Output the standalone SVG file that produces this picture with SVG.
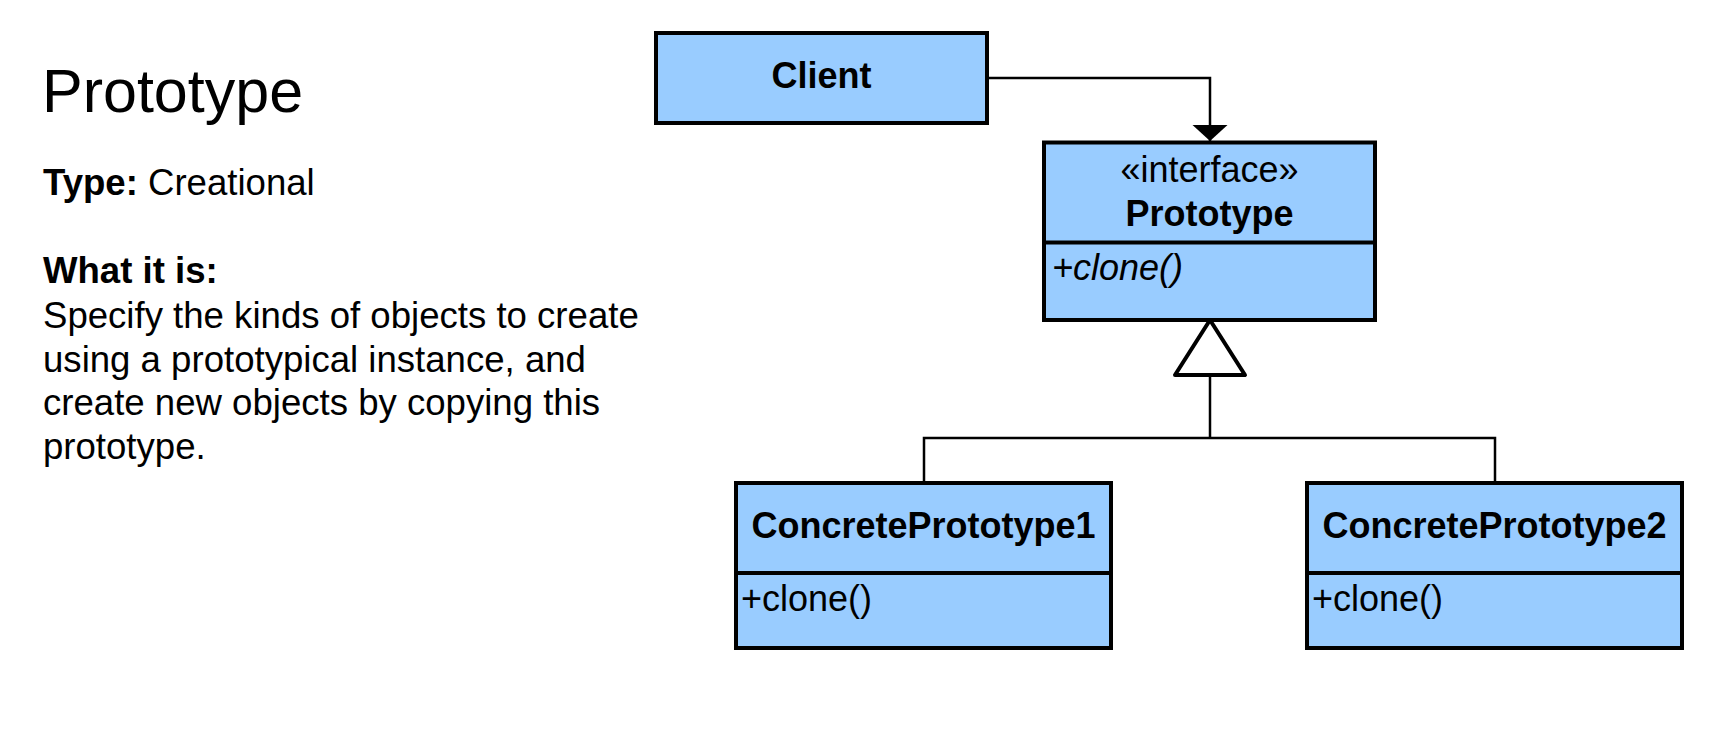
<svg xmlns="http://www.w3.org/2000/svg" width="1731" height="754" viewBox="0 0 1731 754">
<style>
.t{font-family:"Liberation Sans",Arial,sans-serif;fill:#000}
.box{fill:#99CCFF;stroke:#000;stroke-width:4}
.div{stroke:#000;stroke-width:4}
.conn{fill:none;stroke:#000;stroke-width:2.5}
.name{font-size:36px;font-weight:bold;text-anchor:middle}
.op{font-size:36px}
.body{font-size:36.6px}
</style>
<defs>
<marker id="arrow" markerUnits="userSpaceOnUse" viewBox="0 0 16 35" refX="16" refY="17.5" markerWidth="16" markerHeight="35" orient="auto" overflow="visible">
<path d="M0,0 L16,17.5 L0,35 Z" fill="#000"/>
</marker>
<marker id="gen" markerUnits="userSpaceOnUse" viewBox="0 0 55 70" refX="55" refY="35" markerWidth="55" markerHeight="70" orient="auto" overflow="visible">
<path d="M0,0 L55,35 L0,70 Z" fill="#fff" stroke="#000" stroke-width="4" stroke-linejoin="round"/>
</marker>
</defs>
<rect width="1731" height="754" fill="#fff"/>
<g id="description">
<text class="t" x="42" y="111.5" font-size="61">Prototype</text>
<text class="t body" x="43" y="195"><tspan font-weight="bold">Type:</tspan> Creational</text>
<text class="t body" x="43" y="283" font-weight="bold">What it is:</text>
<text class="t body" x="43" y="328">Specify the kinds of objects to create</text>
<text class="t body" x="43" y="371.5">using a prototypical instance, and</text>
<text class="t body" x="43" y="415">create new objects by copying this</text>
<text class="t body" x="43" y="458.5">prototype.</text>
</g>
<g id="connectors">
<path class="conn" d="M987,78 H1210 V141" marker-end="url(#arrow)"/>
<path class="conn" d="M924,483 V438 H1495 V483"/>
<path class="conn" d="M1210,438 V320" marker-end="url(#gen)"/>
</g>
<g id="client">
<rect class="box" x="656" y="33" width="331" height="90"/>
<text class="t name" x="821.5" y="88">Client</text>
</g>
<g id="prototype">
<rect class="box" x="1044" y="142.5" width="331" height="177.5"/>
<line class="div" x1="1044" y1="242.5" x2="1375" y2="242.5"/>
<text class="t" x="1209.5" y="181.5" font-size="36" text-anchor="middle">«interface»</text>
<text class="t name" x="1209.5" y="226">Prototype</text>
<text class="t op" x="1052" y="280" font-style="italic">+clone()</text>
</g>
<g id="concrete1">
<rect class="box" x="736" y="483" width="375" height="165"/>
<line class="div" x1="736" y1="573" x2="1111" y2="573"/>
<text class="t name" x="923.5" y="538">ConcretePrototype1</text>
<text class="t op" x="741" y="611">+clone()</text>
</g>
<g id="concrete2">
<rect class="box" x="1307" y="483" width="375" height="165"/>
<line class="div" x1="1307" y1="573" x2="1682" y2="573"/>
<text class="t name" x="1494.5" y="538">ConcretePrototype2</text>
<text class="t op" x="1312" y="611">+clone()</text>
</g>
</svg>
